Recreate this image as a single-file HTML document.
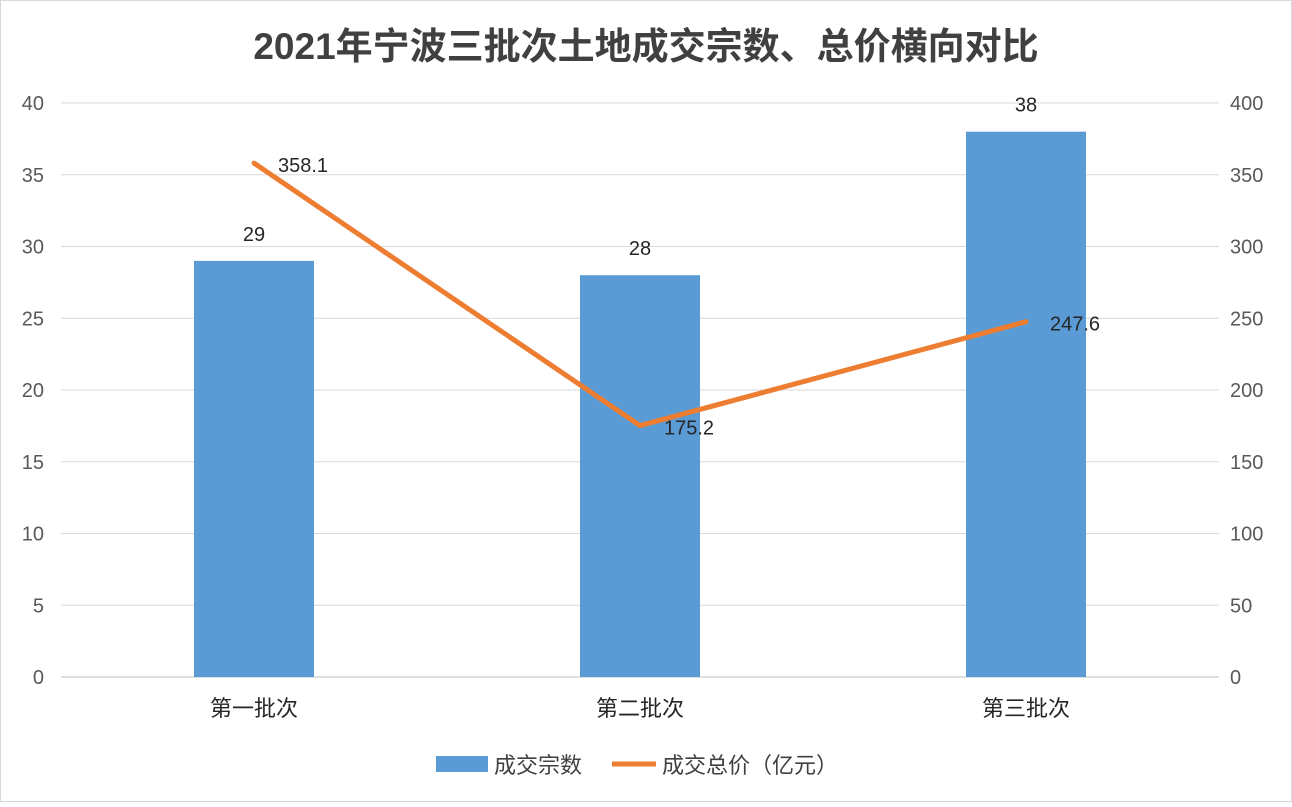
<!DOCTYPE html>
<html><head><meta charset="utf-8"><style>
body{margin:0;background:#fff;}
svg text{font-family:"Liberation Sans","Noto Sans CJK SC",sans-serif;}
</style></head><body>
<svg width="1292" height="802" xmlns="http://www.w3.org/2000/svg" id="chart">
<rect x="0.5" y="0.5" width="1291" height="801" fill="#fff" stroke="#d9d9d9"/>
<text x="646" y="59" text-anchor="middle" font-size="37" font-weight="bold" fill="#404040">2021年宁波三批次土地成交宗数、总价横向对比</text>
<g id="grid"></g><g id="bars"></g><g id="line"></g><g id="labels"></g>
<g>
<rect x="436" y="756" width="52" height="16" fill="#5b9bd5"/>
<text x="494" y="773" font-size="22" fill="#404040">成交宗数</text>
<line x1="612" y1="764" x2="656" y2="764" stroke="#ed7d31" stroke-width="5"/>
<text x="662" y="773" font-size="22" fill="#404040">成交总价（亿元）</text>
</g>
</svg>
<script>
const categories=["第一批次","第二批次","第三批次"];
const counts=[29,28,38];
const prices=[358.1,175.2,247.6];
const leftTicks=[0,5,10,15,20,25,30,35,40];
const rightTicks=[0,50,100,150,200,250,300,350,400];
const NS="http://www.w3.org/2000/svg";
const x0=61,x1=1219,y0=677,y1=103;
const bw=(x1-x0)/categories.length;
const yL=v=>y0-(v/40)*(y0-y1);
const yR=v=>y0-(v/400)*(y0-y1);
const xc=i=>x0+bw*(i+0.5);
function mk(tag,attrs,parent,txt){const e=document.createElementNS(NS,tag);for(const k in attrs)e.setAttribute(k,attrs[k]);if(txt!==undefined)e.textContent=txt;document.getElementById(parent).appendChild(e);return e;}
leftTicks.forEach((t,i)=>{
 const g=mk('line',{x1:x0,x2:x1,y1:yL(t),y2:yL(t),stroke:i===0?'#bfbfbf':'#d9d9d9','stroke-width':1},'grid');
 
 
 const l=mk('text',{x:44,y:yL(t)+7,'text-anchor':'end','font-size':20,fill:'#595959'},'labels',t);
 
 
});
rightTicks.forEach(t=>{
 const l=mk('text',{x:1230,y:yR(t)+7,'font-size':20,fill:'#595959'},'labels',t);
 
 
});
categories.forEach((c,i)=>{
 const b=mk('rect',{x:xc(i)-60,y:yL(counts[i]),width:120,height:y0-yL(counts[i]),fill:'#5b9bd5'},'bars');
 
 
 const v=mk('text',{x:xc(i),y:yL(counts[i])-20,'text-anchor':'middle','font-size':20,fill:'#262626'},'labels',counts[i]);
 
 
 const cl=mk('text',{x:xc(i),y:716,'text-anchor':'middle','font-size':22,fill:'#262626'},'labels',c);
 
 
 const pl=mk('text',{x:xc(i)+24,y:yR(prices[i])+9,'font-size':20,fill:'#262626'},'labels',prices[i]);
 
 
});
const p=mk('polyline',{points:prices.map((v,i)=>xc(i)+','+yR(v)).join(' '),fill:'none',stroke:'#ed7d31','stroke-width':5,'stroke-linejoin':'round','stroke-linecap':'round'},'line');


</script>
</body></html>
